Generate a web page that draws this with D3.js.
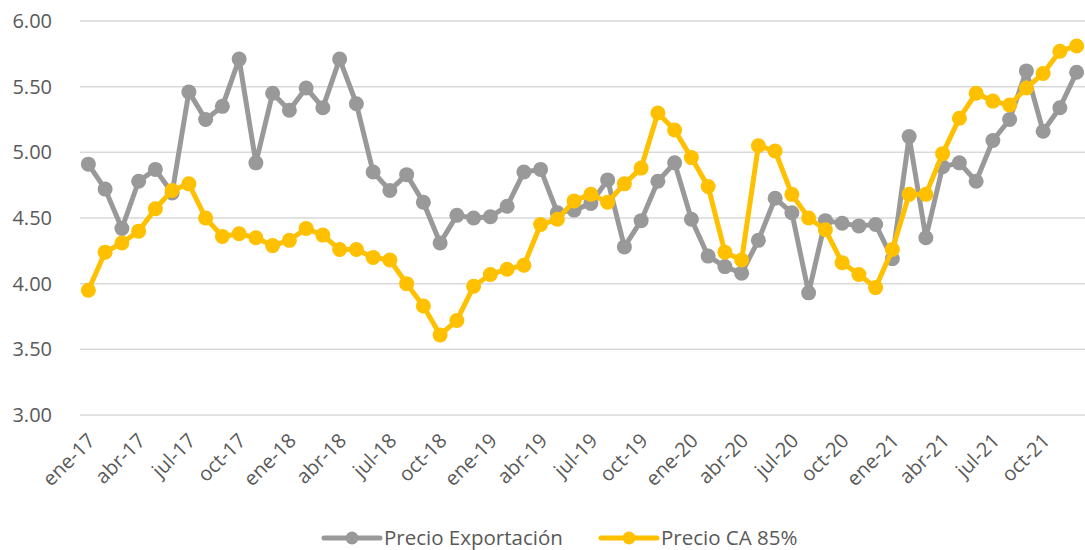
<!DOCTYPE html>
<html>
<head>
<meta charset="utf-8">
<script src="https://cdn.jsdelivr.net/npm/d3@7"></script>
<style>
  body { margin: 0; background: #fff; }
  text { font-family: "Open Sans", "Noto Sans", sans-serif; fill: #595959; }
</style>
</head>
<body>
<svg id="chart" width="1085" height="550"></svg>
<script>
// <--Data--> //
var meses = ["ene","feb","mar","abr","may","jun","jul","ago","sep","oct","nov","dic"];
var anios = ["17","18","19","20","21"];
var categorias = [];
anios.forEach(function(a) { meses.forEach(function(m) { categorias.push(m + "-" + a); }); });

var precioExportacion = [
  4.91, 4.72, 4.42, 4.78, 4.87, 4.69, 5.46, 5.25, 5.35, 5.71, 4.92, 5.45,
  5.32, 5.49, 5.34, 5.71, 5.37, 4.85, 4.71, 4.83, 4.62, 4.31, 4.52, 4.50,
  4.51, 4.59, 4.85, 4.87, 4.54, 4.56, 4.61, 4.79, 4.28, 4.48, 4.78, 4.92,
  4.49, 4.21, 4.13, 4.08, 4.33, 4.65, 4.54, 3.93, 4.48, 4.46, 4.44, 4.45,
  4.19, 5.12, 4.35, 4.89, 4.92, 4.78, 5.09, 5.25, 5.62, 5.16, 5.34, 5.61
];
var precioCA85 = [
  3.95, 4.24, 4.31, 4.40, 4.57, 4.71, 4.76, 4.50, 4.36, 4.38, 4.35, 4.29,
  4.33, 4.42, 4.37, 4.26, 4.26, 4.20, 4.18, 4.00, 3.83, 3.61, 3.72, 3.98,
  4.07, 4.11, 4.14, 4.45, 4.49, 4.63, 4.68, 4.62, 4.76, 4.88, 5.30, 5.17,
  4.96, 4.74, 4.24, 4.18, 5.05, 5.01, 4.68, 4.50, 4.41, 4.16, 4.07, 3.97,
  4.26, 4.68, 4.68, 4.99, 5.26, 5.45, 5.39, 5.36, 5.49, 5.60, 5.77, 5.81
];
var yTicks = [3.0, 3.5, 4.0, 4.5, 5.0, 5.5, 6.0];
var series = [
  { nombre: "Precio Exportación", valores: precioExportacion, color: "#999999" },
  { nombre: "Precio CA 85%", valores: precioCA85, color: "#FFC000" }
];

// <--Scales--> //
var svg = d3.select("#chart");
var x = d3.scaleBand().domain(categorias).range([80, 1085]);
var y = d3.scaleLinear().domain([3, 6]).range([415, 21]);
var cx = function(d, i) { return x(categorias[i]) + x.bandwidth() / 2; };

// grid + y labels
svg.append("g").selectAll("line")
  .data(yTicks).enter().append("line")
  .attr("x1", 80).attr("x2", 1085)
  .attr("y1", function(d) { return y(d); })
  .attr("y2", function(d) { return y(d); })
  .style("stroke", "#d9d9d9").style("stroke-width", 1.5);

svg.append("g").selectAll("text")
  .data(yTicks).enter().append("text")
  .attr("x", 52).attr("y", function(d) { return y(d); })
  .attr("dy", "0.35em").attr("text-anchor", "end")
  .style("font-size", "20px")
  .text(function(d) { return d.toFixed(2); });

// x labels, every third month
svg.append("g").selectAll("text")
  .data(categorias.filter(function(d, i) { return i % 3 === 0; }))
  .enter().append("text")
  .attr("transform", function(d) {
    return "translate(" + (x(d) + x.bandwidth() / 2 + 8) + ",442) rotate(-45)";
  })
  .attr("text-anchor", "end")
  .style("font-size", "20px")
  .text(function(d) { return d; });

// lines + markers
var line = d3.line().x(cx).y(function(d) { return y(d); });

series.forEach(function(s) {
  var g = svg.append("g");
  g.append("path")
    .datum(s.valores)
    .attr("d", line)
    .style("fill", "none")
    .style("stroke", s.color)
    .style("stroke-width", 5)
    .style("stroke-linejoin", "round");
  g.selectAll("circle")
    .data(s.valores).enter().append("circle")
    .attr("cx", cx).attr("cy", function(d) { return y(d); })
    .attr("r", 7.5)
    .style("fill", s.color);
});

// <--Legend--> //
var legendX = [324, 601];
series.forEach(function(s, i) {
  var lg = svg.append("g").attr("transform", "translate(" + legendX[i] + ",538)");
  lg.append("line").attr("x1", 0).attr("x2", 56)
    .style("stroke", s.color).style("stroke-width", 5).style("stroke-linecap", "round");
  lg.append("circle").attr("cx", 28).attr("r", 6.5).style("fill", s.color);
  lg.append("text").attr("x", 60).attr("dy", "0.35em")
    .style("font-size", "20.5px").text(s.nombre);
});
</script>
</body>
</html>
